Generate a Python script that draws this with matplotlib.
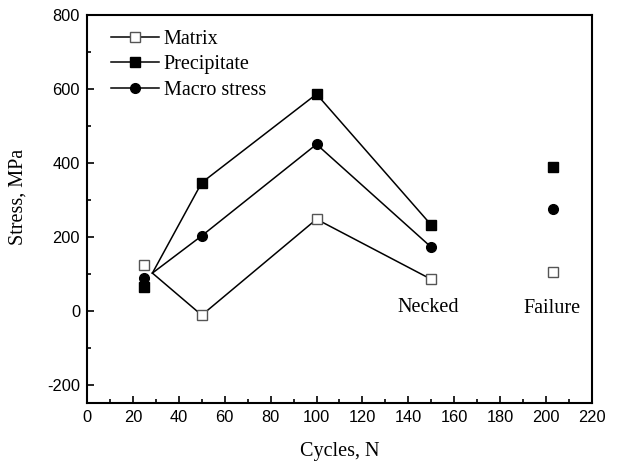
import matplotlib.pyplot as plt
from matplotlib.ticker import MultipleLocator

plt.rcParams['axes.unicode_minus'] = False

# cycles where the curves were measured
cycles = [25, 50, 100, 150]
cycles_failure = [203]

# stress values (MPa)
matrix = [125, -12, 248, 85]
precipitate = [65, 347, 587, 232]
macro = [88, 203, 451, 172]

matrix_failure = [105]
precipitate_failure = [390]
macro_failure = [275]

# the drawn lines start from a common point just right of the first markers
line_start_x = 28.5
line_start_y = 102

serif = ['Liberation Serif', 'DejaVu Serif']
sans = ['Liberation Sans', 'DejaVu Sans']

fig = plt.figure(figsize=(6.24, 4.63), dpi=100)
ax = fig.add_axes([0.1394, 0.1296, 0.8093, 0.837])

series = [
    ('Matrix', matrix, matrix_failure, 's', 'white'),
    ('Precipitate', precipitate, precipitate_failure, 's', 'black'),
    ('Macro stress', macro, macro_failure, 'o', 'black'),
]

for label, vals, fail, mk, face in series:
    ms = 6.5 if mk == 's' else 7
    mec = '#555555' if face == 'white' else 'black'
    # line from the common start through the remaining points
    ax.plot([line_start_x] + cycles[1:], [line_start_y] + vals[1:], color='black', lw=1.1, zorder=2)
    ax.plot(cycles, vals, linestyle='none', marker=mk, ms=ms, mfc=face, mec=mec, mew=1.0, zorder=3)
    ax.plot(cycles_failure, fail, linestyle='none', marker=mk, ms=ms, mfc=face, mec=mec, mew=1.0, zorder=3)
    # legend handle
    ax.plot([], [], color='black', lw=1.1, marker=mk, ms=ms, mfc=face, mec=mec, mew=1.0, label=label)

ax.text(148.6, 10, 'Necked', ha='center', va='center', fontsize=14.5, family=serif)
ax.text(202.6, 7, 'Failure', ha='center', va='center', fontsize=14.5, family=serif)

ax.set_xlim(0, 220)
ax.set_ylim(-250, 800)
ax.xaxis.set_major_locator(MultipleLocator(20))
ax.xaxis.set_minor_locator(MultipleLocator(10))
ax.yaxis.set_major_locator(MultipleLocator(200))
ax.yaxis.set_minor_locator(MultipleLocator(100))
ax.tick_params(which='both', direction='in', top=False, right=False, width=1.2)
ax.tick_params(which='major', length=5, labelsize=11.8, pad=5)
ax.tick_params(which='minor', length=3)
for t in ax.get_xticklabels() + ax.get_yticklabels():
    t.set_family(sans)
for s in ax.spines.values():
    s.set_linewidth(1.5)

ax.set_xlabel('Cycles, N', fontsize=14.5, family=serif, labelpad=12)
ax.set_ylabel('Stress, MPa', fontsize=14.5, family=serif)
ax.yaxis.set_label_coords(-0.117, 0.531)

leg = ax.legend(loc='upper left', frameon=False, prop={'family': serif, 'size': 14.5},
                handlelength=2.35, handletextpad=0.25, labelspacing=0.32,
                borderaxespad=0.3, bbox_to_anchor=(0.02, 1.0))

fig.savefig('out.png', dpi=100)
